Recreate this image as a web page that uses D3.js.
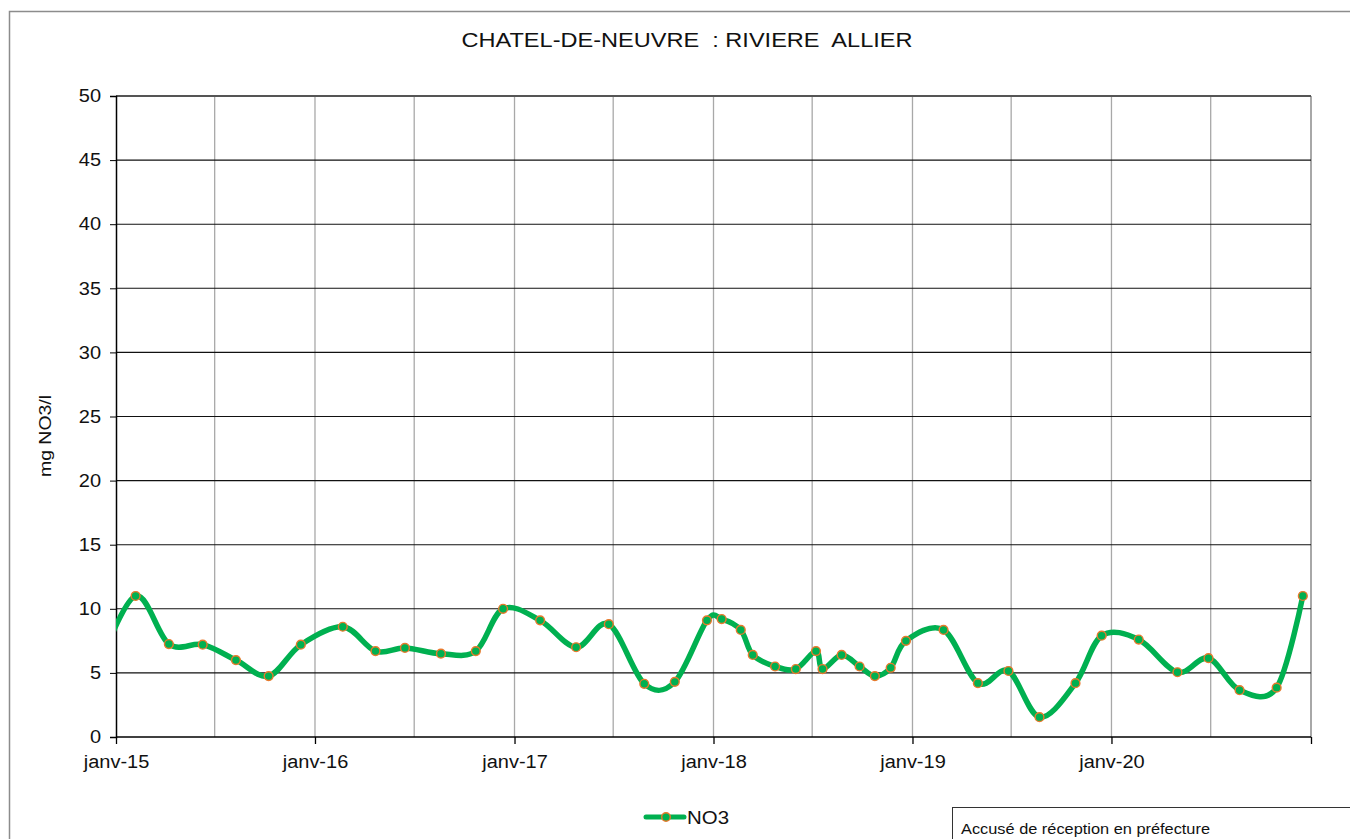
<!DOCTYPE html>
<html><head><meta charset="utf-8">
<script src="https://cdn.jsdelivr.net/npm/d3@7"></script>
<style>body{margin:0;background:#fff}svg{display:block;font-family:"Liberation Sans",Arial,sans-serif}</style>
</head><body><svg id="c" width="1350" height="839"></svg>
<script>
const title = "CHATEL-DE-NEUVRE  : RIVIERE  ALLIER";
const yLabel = "mg NO3/l";
const seriesName = "NO3";
const dates = ["2014-12-01","2015-02-06","2015-04-08","2015-06-09","2015-08-09","2015-10-08","2015-12-06",
 "2016-02-21","2016-04-21","2016-06-14","2016-08-19","2016-10-22","2016-12-11",
 "2017-02-17","2017-04-24","2017-06-23","2017-08-27","2017-10-22","2017-12-20",
 "2018-01-16","2018-02-20","2018-03-14","2018-04-24","2018-06-01","2018-07-08","2018-07-20","2018-08-24","2018-09-26","2018-10-24","2018-11-22","2018-12-20",
 "2019-02-27","2019-05-01","2019-06-26","2019-08-22","2019-10-27","2019-12-14",
 "2020-02-20","2020-05-01","2020-06-27","2020-08-23","2020-10-30","2020-12-17"];
const no3 = [5.6,11.0,7.25,7.2,6.0,4.75,7.2,
 8.6,6.7,6.95,6.5,6.7,10.0,
 9.1,7.0,8.8,4.15,4.3,9.1,
 9.2,8.35,6.4,5.5,5.3,6.7,5.3,6.4,5.5,4.75,5.4,7.5,
 8.35,4.2,5.15,1.55,4.2,7.9,
 7.6,5.05,6.15,3.65,3.85,11.0];
const yTicks = [0,5,10,15,20,25,30,35,40,45,50];
const xTickLabels = ["janv-15","janv-16","janv-17","janv-18","janv-19","janv-20"];
const stampText = "Accusé de réception en préfecture";

const parse = d3.timeParse("%Y-%m-%d");
const data = dates.map((d,i)=>({date:parse(d), v:no3[i]}));
const svg = d3.select("#c");
const L=116,R=1311,T=96,B=737;
const x = d3.scaleTime().domain([new Date(2015,0,1), new Date(2021,0,1)]).range([L,R]);
const y = d3.scaleLinear().domain([0,50]).range([B,T]);

function stretch(sel,k){sel.each(function(){const w=this.getComputedTextLength();d3.select(this).attr("textLength",w*k).attr("lengthAdjust","spacingAndGlyphs");});}

// outer border
svg.append("rect").attr("x",9.5).attr("y",11.5).attr("width",1400).attr("height",900)
  .attr("fill","none").attr("stroke","#8c8c8c").attr("stroke-width",1.5);

svg.append("text").attr("x",687).attr("y",47).attr("text-anchor","middle")
  .attr("font-size",21).attr("fill","#111").style("white-space","pre").text(title)
  .attr("textLength",451).attr("lengthAdjust","spacingAndGlyphs");

// vertical grid every 6 months
const vg = d3.timeMonth.every(6).range(new Date(2015,6,1), new Date(2021,0,2));
svg.append("g").selectAll("line").data(vg).join("line")
  .attr("x1",d=>x(d)).attr("x2",d=>x(d)).attr("y1",T).attr("y2",B)
  .attr("stroke","#a8a8a8").attr("stroke-width",d=>+d===+new Date(2021,0,1)?2:1.3);

// horizontal grid
svg.append("g").selectAll("line").data(yTicks.filter(t=>t>0)).join("line")
  .attr("x1",L).attr("x2",R).attr("y1",d=>y(d)).attr("y2",d=>y(d))
  .attr("stroke",d=>d===50?"#555":"#111").attr("stroke-width",d=>d===50?2:1.1);

// y axis
const ya = d3.axisLeft(y).tickValues(yTicks).tickSize(6).tickPadding(9);
svg.append("g").attr("transform",`translate(${L},0)`).call(ya)
  .call(g=>{g.select(".domain").attr("stroke","#000").attr("stroke-width",1.5);
    g.selectAll("line").attr("stroke","#000");
    g.selectAll("text").attr("font-size",18).attr("fill","#111").attr("font-family","Liberation Sans, Arial, sans-serif").call(stretch,1.11);});

// x axis
const yearTicks = d3.timeYear.range(new Date(2015,0,1), new Date(2021,0,2));
const xa = d3.axisBottom(x).tickValues(yearTicks).tickSize(7).tickPadding(11)
  .tickFormat((d,i)=>xTickLabels[i]||"");
svg.append("g").attr("transform",`translate(0,${B})`).call(xa)
  .call(g=>{g.select(".domain").attr("stroke","#000").attr("stroke-width",1.5).attr("d",`M${L},0H${R}`);
    g.selectAll("line").attr("stroke","#000").attr("stroke-width",1.3);
    g.selectAll("text").attr("font-size",18).attr("fill","#111").attr("font-family","Liberation Sans, Arial, sans-serif").call(stretch,1.11);});

// y label
svg.append("text").attr("transform","translate(51,436) rotate(-90)").attr("text-anchor","middle")
  .attr("font-size",17).attr("fill","#111").text(yLabel).attr("textLength",82).attr("lengthAdjust","spacingAndGlyphs");

// clip
svg.append("clipPath").attr("id","clip").append("rect").attr("x",L).attr("y",T-10).attr("width",R-L+10).attr("height",B-T+10);

const green="#00b050", orange="#e8792c";
const line = d3.line().x(d=>x(d.date)).y(d=>y(d.v)).curve(d3.curveCardinal.tension(0));
const g = svg.append("g").attr("clip-path","url(#clip)");
g.append("path").datum(data).attr("d",line).attr("fill","none").attr("stroke",green).attr("stroke-width",5.5).attr("stroke-linejoin","round");
g.selectAll("circle").data(data).join("circle").attr("cx",d=>x(d.date)).attr("cy",d=>y(d.v)).attr("r",4.4)
  .attr("fill",green).attr("stroke",orange).attr("stroke-width",1.4);

// legend
svg.append("line").attr("x1",646).attr("x2",684).attr("y1",817).attr("y2",817).attr("stroke",green).attr("stroke-width",5).attr("stroke-linecap","round");
svg.append("circle").attr("cx",666).attr("cy",817).attr("r",4.3).attr("fill",green).attr("stroke",orange).attr("stroke-width",1.4);
svg.append("text").attr("x",687).attr("y",824).attr("font-size",19).attr("fill","#111").text(seriesName).attr("textLength",42).attr("lengthAdjust","spacingAndGlyphs");

// stamp box
svg.append("rect").attr("x",952.5).attr("y",807.5).attr("width",500).attr("height",100).attr("fill","#fff").attr("stroke","#333").attr("stroke-width",1);
svg.append("text").attr("x",961).attr("y",834).attr("font-size",15).attr("fill","#111").text(stampText).attr("textLength",249).attr("lengthAdjust","spacingAndGlyphs");
</script></body></html>
